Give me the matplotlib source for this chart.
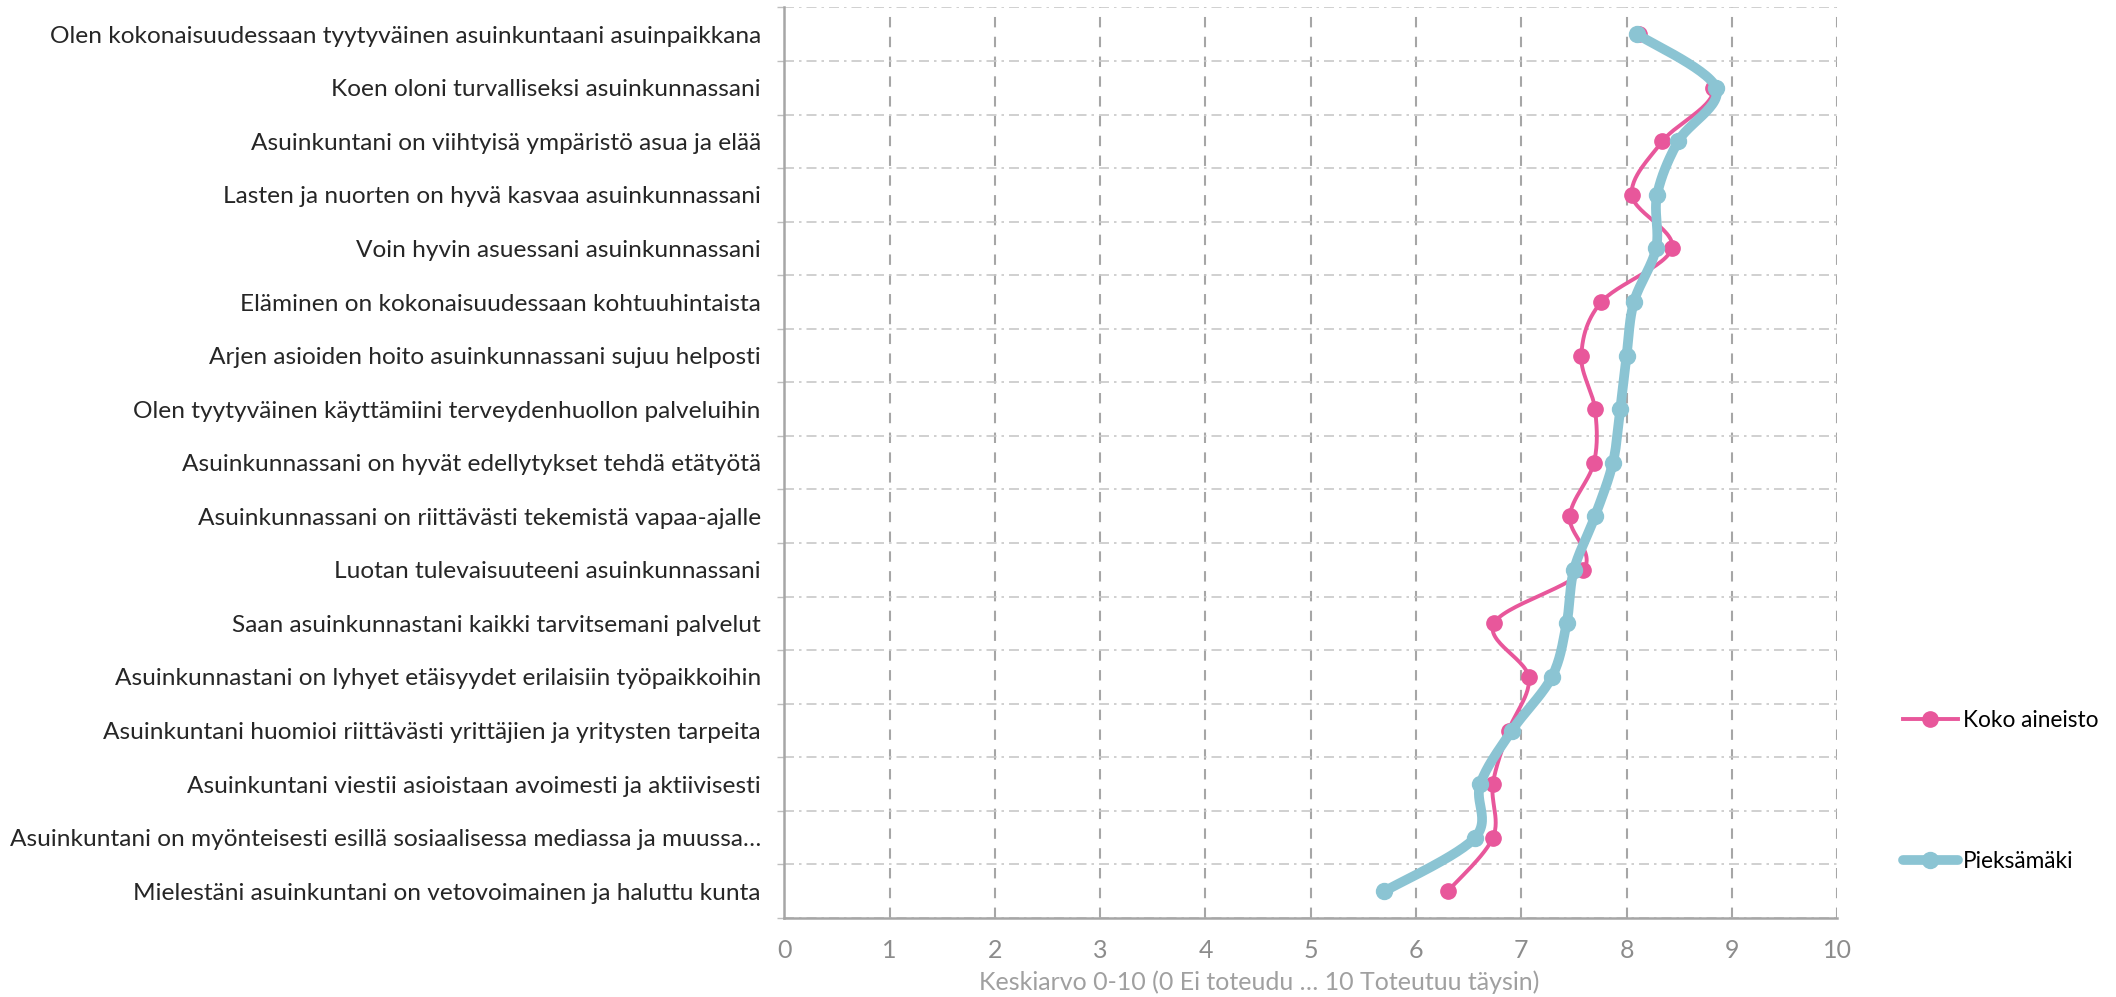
import matplotlib
matplotlib.use('Agg')
import matplotlib.pyplot as plt
from matplotlib.lines import Line2D
from matplotlib.ticker import MultipleLocator
import numpy as np

plt.rcParams['font.family'] = ['Lato', 'DejaVu Sans']

categories = [
    'Olen kokonaisuudessaan tyytyväinen asuinkuntaani asuinpaikkana',
    'Koen oloni turvalliseksi asuinkunnassani',
    'Asuinkuntani on viihtyisä ympäristö asua ja elää',
    'Lasten ja nuorten on hyvä kasvaa asuinkunnassani',
    'Voin hyvin asuessani asuinkunnassani',
    'Eläminen on kokonaisuudessaan kohtuuhintaista',
    'Arjen asioiden hoito asuinkunnassani sujuu helposti',
    'Olen tyytyväinen käyttämiini terveydenhuollon palveluihin',
    'Asuinkunnassani on hyvät edellytykset tehdä etätyötä',
    'Asuinkunnassani on riittävästi tekemistä vapaa-ajalle',
    'Luotan tulevaisuuteeni asuinkunnassani',
    'Saan asuinkunnastani kaikki tarvitsemani palvelut',
    'Asuinkunnastani on lyhyet etäisyydet erilaisiin työpaikkoihin',
    'Asuinkuntani huomioi riittävästi yrittäjien ja yritysten tarpeita',
    'Asuinkuntani viestii asioistaan avoimesti ja aktiivisesti',
    'Asuinkuntani on myönteisesti esillä sosiaalisessa mediassa ja muussa…',
    'Mielestäni asuinkuntani on vetovoimainen ja haluttu kunta',
]
koko = [8.12, 8.82, 8.34, 8.05, 8.43, 7.76, 7.57, 7.70, 7.69, 7.46, 7.59,
        6.74, 7.07, 6.88, 6.73, 6.73, 6.30]
pieksamaki = [8.10, 8.85, 8.49, 8.29, 8.28, 8.07, 8.00, 7.94, 7.87, 7.70, 7.50,
              7.43, 7.29, 6.91, 6.61, 6.56, 5.70]

PINK = '#E8579B'
BLUE = '#8BC4D3'
GRID = '#a6a6a6'


def smooth(xs, ys, sx=105.3, sy=53.5, n=30):
    # Excel style smoothing (Catmull-Rom) in screen-like units
    P = np.column_stack([np.asarray(xs) * sx, np.asarray(ys) * sy])
    P = np.vstack([P[0], P, P[-1]])
    out = []
    for i in range(1, len(P) - 2):
        p0, p1, p2, p3 = P[i - 1], P[i], P[i + 1], P[i + 2]
        c1 = p1 + (p2 - p0) / 6
        c2 = p2 - (p3 - p1) / 6
        t = np.linspace(0, 1, n)[:, None]
        seg = ((1 - t) ** 3) * p1 + 3 * ((1 - t) ** 2) * t * c1 + 3 * (1 - t) * t ** 2 * c2 + t ** 3 * p2
        out.append(seg)
    out = np.vstack(out)
    return out[:, 0] / sx, out[:, 1] / sy


fig = plt.figure(figsize=(21.16, 9.97), dpi=100)
ax = fig.add_axes([0.3707, 0.0792, 0.4975, 0.9134])

ypos = np.arange(len(categories))

for vals, color, lw, ms, z in [(koko, PINK, 2.8, 11, 3), (pieksamaki, BLUE, 7, 11.5, 4)]:
    sx_, sy_ = smooth(vals, ypos)
    ax.plot(sx_, sy_, color=color, lw=lw, solid_capstyle='round', zorder=z)
    ax.plot(vals, ypos, 'o', color=color, ms=ms, zorder=z)

ax.set_xlim(0, 10)
ax.set_ylim(len(categories) - 0.5, -0.5)
ax.xaxis.set_major_locator(MultipleLocator(1))
ax.set_yticks(ypos)
ax.set_yticklabels(categories, fontsize=17.6, color='#262626')
ax.set_yticks(np.arange(-0.5, len(categories), 1), minor=True)

ax.grid(axis='x', which='major', color=GRID, lw=1.5, linestyle=(0, (5, 4.5)))
ax.grid(axis='y', which='minor', color='#c8c8c8', lw=1.2, linestyle=(0, (6, 3, 1.5, 3)))
ax.set_axisbelow(True)

ax.tick_params(axis='y', which='major', length=0, pad=17)
ax.tick_params(axis='y', which='minor', length=5, color='#bfbfbf', width=1)
ax.tick_params(axis='x', length=0, pad=15, labelsize=18, labelcolor='#8c8c8c')

for s in ['top', 'right']:
    ax.spines[s].set_visible(False)
for s in ['left', 'bottom']:
    ax.spines[s].set_color(GRID)
    ax.spines[s].set_linewidth(1.8)

ax.set_xlabel('Keskiarvo 0-10 (0 Ei toteudu … 10 Toteutuu täysin)', fontsize=18, color='#a0a0a0')
ax.xaxis.set_label_coords(0.451, -0.058)

handles = [
    Line2D([], [], color=PINK, lw=2.8, marker='o', ms=11),
    Line2D([], [], color=BLUE, lw=7, marker='o', ms=11.5, solid_capstyle='round'),
]
fig.legend(handles, ['Koko aineisto', 'Pieksämäki'], loc='upper left',
           bbox_to_anchor=(0.8898, 0.308), frameon=False, fontsize=16.3,
           labelspacing=5.3, handlelength=2.4, handletextpad=0.22)

fig.savefig('out.png', dpi=100)
